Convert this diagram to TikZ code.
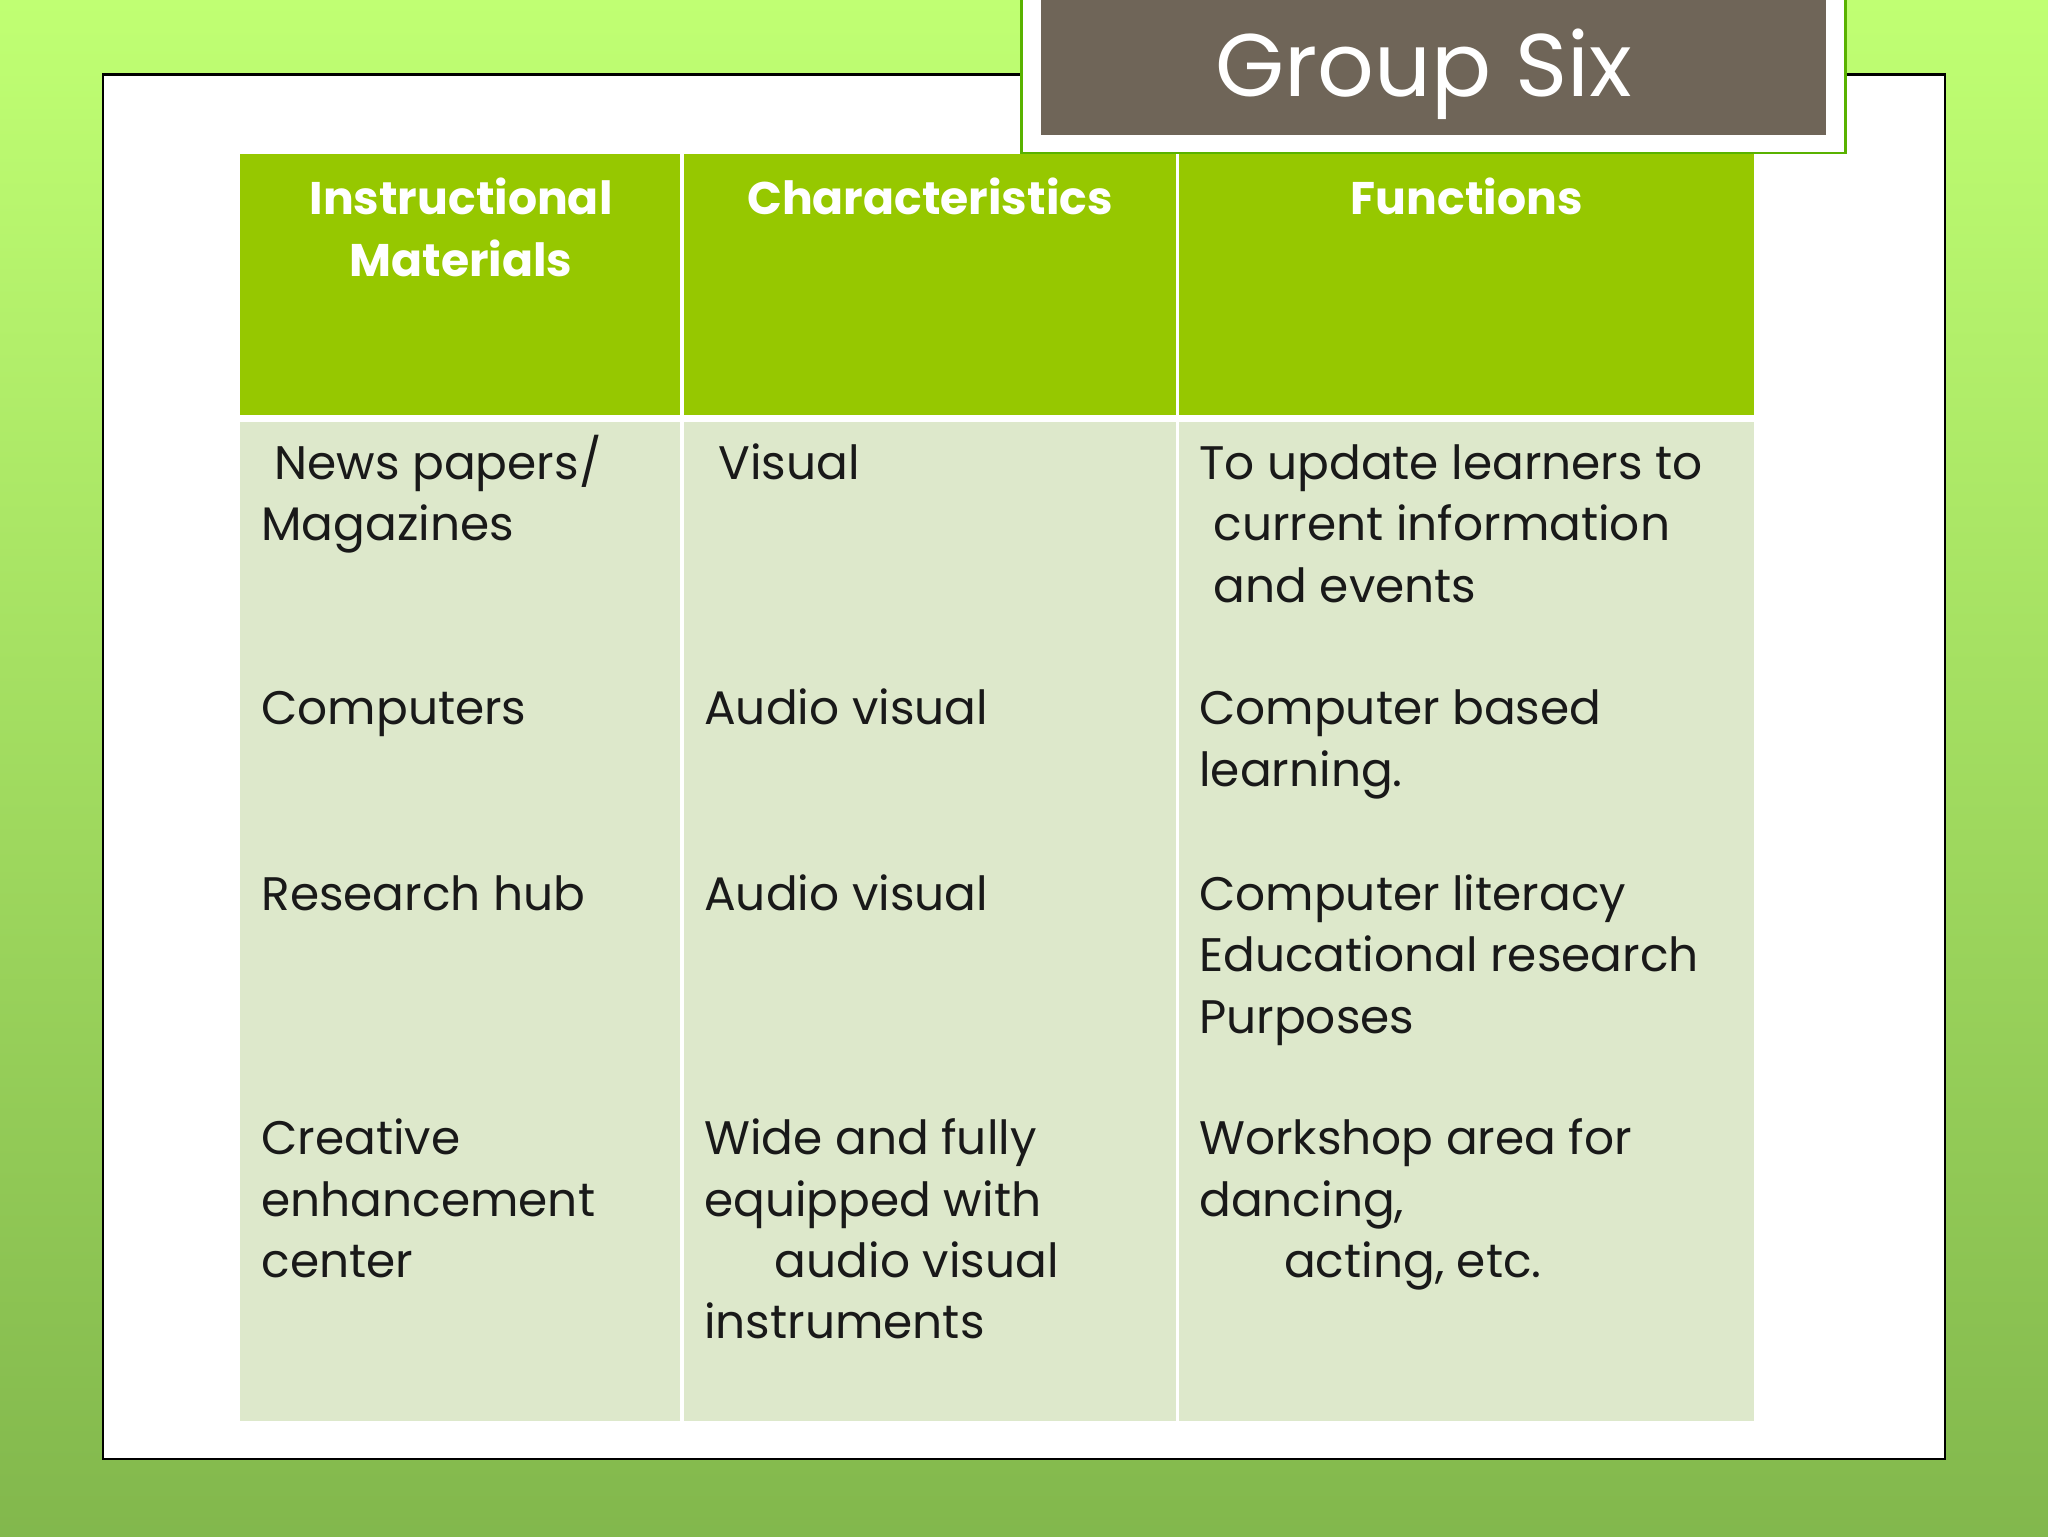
\documentclass[tikz,border=0pt]{standalone}
\usepackage{fontspec}
\setmainfont{Poppins}
\begin{document}
\begin{tikzpicture}[x=1pt,y=-1pt,
  txt/.style={anchor=base west,inner sep=0pt,yshift=-13pt,font=\fontsize{36}{47}\selectfont\color{black!90}},
  hd/.style={anchor=center,inner sep=0pt,align=center,font=\fontsize{35}{47}\selectfont\bfseries\color{white}}]
\useasboundingbox (0,0) rectangle (1568,1176);
\shade[top color=green!45!yellow!55!white, bottom color=green!50!yellow!60!black!70] (0,0) rectangle (1568,1176);
\fill[white,draw=black,line width=2pt] (79,57) rectangle (1489,1117);
\fill[white,draw=green!50!yellow!70!black,line width=2pt] (782,-2) rectangle (1413,117);
\fill[fill={rgb,255:red,111;green,101;blue,88}] (797,-2) rectangle (1398,103);
\node (title) at (1090,57) {\fontsize{68}{80}\selectfont\color{white}Group Six};
\definecolor{hg}{RGB}{150,200,0}
\definecolor{bg}{RGB}{221,232,203}
\fill[hg] (184,118) rectangle (521,318);
\fill[hg] (524,118) rectangle (900,318);
\fill[hg] (903,118) rectangle (1343,318);
\fill[bg] (184,323) rectangle (521,1088);
\fill[bg] (524,323) rectangle (900,1088);
\fill[bg] (903,323) rectangle (1343,1088);
\node[hd] (h1) at (353,174) {Instructional\\Materials};
\node[hd] (h2) at (712,150) {Characteristics};
\node[hd] (h3) at (1123,150) {Functions};
% column 1
\node[txt] (a1) at (210,354) {News papers/};
\node[txt] (a2) at (200,401) {Magazines};
\node[txt] (a3) at (200,542) {Computers};
\node[txt] (a4) at (200,684) {Research hub};
\node[txt] (a5) at (200,871) {Creative};
\node[txt] (a6) at (200,918) {enhancement};
\node[txt] (a7) at (200,965) {center};
% column 2
\node[txt] (b1) at (550,354) {Visual};
\node[txt] (b2) at (539,542) {Audio visual};
\node[txt] (b3) at (539,684) {Audio visual};
\node[txt] (b4) at (539,871) {Wide and fully};
\node[txt] (b5) at (539,918) {equipped with};
\node[txt] (b6) at (593,965) {audio visual};
\node[txt] (b7) at (539,1012) {instruments};
% column 3
\node[txt] (c1) at (918,354) {To update learners to};
\node[txt] (c2) at (929,401) {current information};
\node[txt] (c3) at (929,448) {and events};
\node[txt] (c4) at (918,542) {Computer based};
\node[txt] (c5) at (918,589) {learning.};
\node[txt] (c6) at (918,684) {Computer literacy};
\node[txt] (c7) at (918,731) {Educational research};
\node[txt] (c8) at (918,778) {Purposes};
\node[txt] (c9) at (918,871) {Workshop area for};
\node[txt] (c10) at (918,918) {dancing,};
\node[txt] (c11) at (983,965) {acting, etc.};
\end{tikzpicture}
\end{document}
